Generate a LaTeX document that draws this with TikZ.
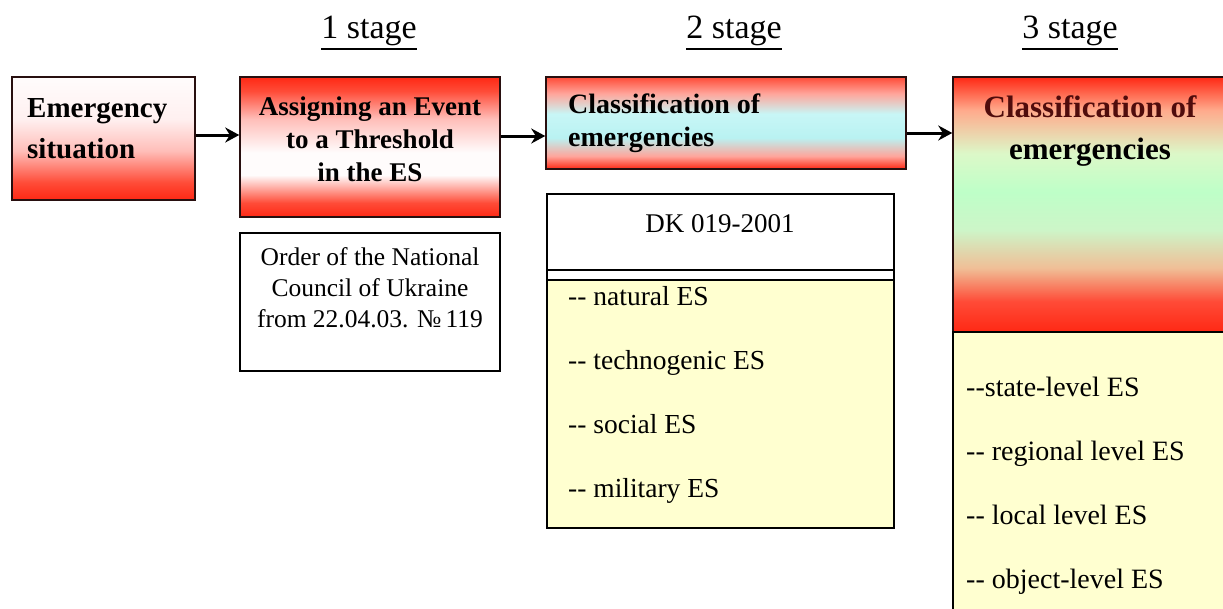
\documentclass[tikz,border=0pt]{standalone}
\usepackage{fontspec}
\setmainfont{Liberation Serif}
\usetikzlibrary{arrows.meta}
\definecolor{rdA}{RGB}{255,40,20}
\definecolor{rdB}{RGB}{255,75,55}
\definecolor{pkA}{RGB}{255,190,185}
\definecolor{pkB}{RGB}{255,240,240}
\definecolor{wtA}{RGB}{255,252,252}
\definecolor{cyA}{RGB}{185,242,242}
\definecolor{cyB}{RGB}{200,246,246}
\definecolor{pkC}{RGB}{255,165,155}
\definecolor{saA}{RGB}{255,170,140}
\definecolor{grA}{RGB}{220,248,200}
\definecolor{grB}{RGB}{190,255,200}
\definecolor{grC}{RGB}{205,245,200}
\definecolor{peA}{RGB}{240,190,150}
\definecolor{ylw}{RGB}{255,255,208}
\definecolor{bord}{RGB}{40,15,15}
\definecolor{maroon}{RGB}{80,12,12}
\pgfdeclareverticalshading{shOne}{100bp}{color(0bp)=(rdA); color(25bp)=(rdA); color(32bp)=(rdB); color(45bp)=(pkA); color(58bp)=(pkB); color(75bp)=(wtA); color(100bp)=(wtA)}
\pgfdeclareverticalshading{shTwo}{100bp}{color(0bp)=(rdA); color(25bp)=(rdA); color(30bp)=(rdB); color(40bp)=(wtA); color(48bp)=(wtA); color(60bp)=(pkA); color(70bp)=(rdB); color(75bp)=(rdA); color(100bp)=(rdA)}
\pgfdeclareverticalshading{shThree}{100bp}{color(0bp)=(rdA); color(25bp)=(rdA); color(32bp)=(pkC); color(42bp)=(cyA); color(55bp)=(cyB); color(66bp)=(pkC); color(75bp)=(rdB); color(100bp)=(rdB)}
\pgfdeclareverticalshading{shFour}{100bp}{color(0bp)=(rdA); color(25bp)=(rdA); color(31bp)=(rdB); color(37.5bp)=(peA); color(45bp)=(grC); color(52.5bp)=(grB); color(60bp)=(grA); color(68.5bp)=(saA); color(75bp)=(rdA); color(100bp)=(rdA)}
\tikzset{
  box/.style={draw=bord, line width=1.5pt, inner sep=0pt, shading angle=0},
  plain/.style={draw=black, line width=1.3pt, inner sep=0pt},
  txt/.style={inner sep=0pt, text=black},
  btxt/.style={txt, font=\bfseries},
  arr/.style={line width=3pt, -{Stealth[length=14pt,width=15pt]}},
  stagelbl/.style={txt, font=\fontsize{34}{38}\selectfont, anchor=base},
  uline/.style={line width=1.3pt}
}
\begin{document}
\begin{tikzpicture}[x=1pt,y=-1pt]
\useasboundingbox (0,0) rectangle (1223,608);
\clip (0,0) rectangle (1223,608);
\fill[white] (0,0) rectangle (1223,608);

% stage labels
\node[stagelbl] (s1) at (369,38) {1 stage};
\node[stagelbl] (s2) at (734,38) {2 stage};
\node[stagelbl] (s3) at (1070,38) {3 stage};
\foreach \s in {s1,s2,s3}{
  \draw[uline] ([yshift=-11pt]\s.base west) -- ([yshift=-11pt]\s.base east);
}

% boxes
\node[box, shading=shOne, minimum width=183pt, minimum height=123pt] (b1) at (103.5,138.5) {};
\node[box, shading=shTwo, minimum width=260pt, minimum height=140pt] (b2) at (370,147) {};
\node[plain, fill=white, minimum width=260pt, minimum height=138pt] (ord) at (370,302) {};
\node[box, shading=shThree, minimum width=360pt, minimum height=92pt] (b3) at (726,123) {};
\node[plain, fill=white, minimum width=347pt, minimum height=334pt] (dk) at (720.5,361) {};
\node[plain, fill=ylw, minimum width=347pt, minimum height=248pt] (dkl) at (720.5,404) {};
\draw[line width=1.3pt] (dk.west |- 0,270) -- (dk.east |- 0,270);
\node[box, shading=shFour, minimum width=290pt, minimum height=255pt] (b4) at (1098,204.5) {};
\node[plain, fill=ylw, minimum width=290pt, minimum height=300pt] (b4l) at (1098,482) {};

% texts (anchor = baseline of the last line)
\node[btxt, font=\bfseries\fontsize{29}{41}\selectfont, anchor=base west, align=left] (t1) at (27,158) {Emergency\\situation};
\node[btxt, font=\bfseries\fontsize{27}{33}\selectfont, anchor=base, align=center] (t2) at (370,181) {Assigning an Event\\to a Threshold\\in the ES};
\node[txt, font=\fontsize{25.5}{31}\selectfont, anchor=base, align=center] (t3) at (370,327) {Order of the National\\Council of Ukraine\\from 22.04.03. №\,119};
\node[btxt, font=\bfseries\fontsize{28}{33}\selectfont, anchor=base west, align=left] (t4) at (568,146) {Classification of\\emergencies};
\node[txt, font=\fontsize{27}{30}\selectfont, anchor=base] (t5) at (720,232) {DK 019-2001};
\node[txt, font=\fontsize{27.5}{64}\selectfont, anchor=base west, align=left] (t6) at (568,497) {-{}- natural ES\\-{}- technogenic ES\\-{}- social ES\\-{}- military ES};
\node[btxt, font=\bfseries\fontsize{31}{42}\selectfont, anchor=base, align=center] (t7) at (1090,159) {\textcolor{maroon}{Classification of}\\emergencies};
\node[txt, font=\fontsize{28}{64}\selectfont, anchor=base west, align=left] (t8) at (966,588) {-{}-state-level ES\\-{}- regional level ES\\-{}- local level ES\\-{}- object-level ES};

% arrows
\coordinate (r1) at (0,135);
\coordinate (r2) at (0,136);
\coordinate (r3) at (0,133);
\draw[arr] (b1.east |- r1) -- (b2.west |- r1);
\draw[arr] (b2.east |- r2) -- (b3.west |- r2);
\draw[arr] (b3.east |- r3) -- (b4.west |- r3);
\end{tikzpicture}
\end{document}
